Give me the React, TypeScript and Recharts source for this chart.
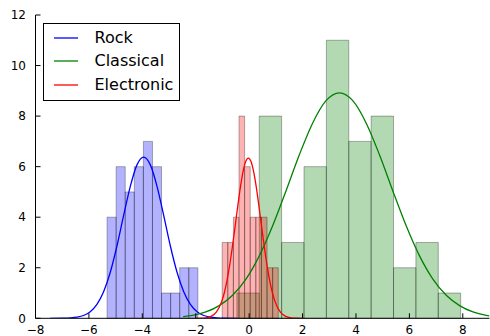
import React from "react";
import { ComposedChart, Line, XAxis, YAxis, ReferenceArea } from "recharts";

// histogram counts per bin
const rockCounts = [4, 6, 5, 6, 7, 6, 1, 1, 2, 2];
const rockBinStart = -5.32;
const rockBinWidth = 0.34;

const classicalCounts = [1, 8, 3, 6, 11, 7, 8, 2, 3, 1];
const classicalBinStart = -0.46;
const classicalBinWidth = 0.838;

const electronicCounts = [3, 3, 4, 8, 6, 4, 4, 4, 2, 2];
const electronicBinStart = -1.01;
const electronicBinWidth = 0.21;

// fitted curves, sampled by eye
const rockCurveX = [-7.45, -6.95, -6.7, -6.45, -6.2, -5.95, -5.7, -5.45, -5.2, -4.95, -4.7, -4.45, -4.2, -3.95, -3.7, -3.45, -3.2, -2.95, -2.7, -2.45, -2.2, -1.95, -1.7, -1.45, -1.2, -0.95, -0.45];
const rockCurveY = [0, 0.005, 0.015, 0.043, 0.11, 0.26, 0.55, 1.05, 1.82, 2.86, 4.07, 5.22, 6.07, 6.38, 6.07, 5.22, 4.07, 2.86, 1.82, 1.05, 0.55, 0.26, 0.11, 0.043, 0.015, 0.005, 0];

const classicalCurveX = [-2.47, -2.12, -1.62, -1.12, -0.62, -0.12, 0.38, 0.88, 1.38, 1.88, 2.38, 2.88, 3.38, 3.88, 4.38, 4.88, 5.38, 5.88, 6.38, 6.88, 7.38, 7.88, 8.38, 8.88, 9.0];
const classicalCurveY = [0.068, 0.119, 0.25, 0.5, 0.91, 1.55, 2.47, 3.66, 5.04, 6.47, 7.73, 8.61, 8.92, 8.61, 7.73, 6.47, 5.04, 3.66, 2.47, 1.55, 0.91, 0.5, 0.25, 0.119, 0.098];

const electronicCurveX = [-2.03, -1.83, -1.63, -1.43, -1.23, -1.03, -0.93, -0.83, -0.73, -0.63, -0.53, -0.43, -0.33, -0.23, -0.13, -0.03, 0.07, 0.17, 0.27, 0.37, 0.47, 0.57, 0.67, 0.77, 0.87, 0.97, 1.17, 1.37, 1.57, 1.77, 1.97];
const electronicCurveY = [0, 0.004, 0.019, 0.075, 0.24, 0.66, 1.01, 1.49, 2.09, 2.81, 3.6, 4.41, 5.17, 5.79, 6.2, 6.34, 6.2, 5.79, 5.17, 4.41, 3.6, 2.81, 2.09, 1.49, 1.01, 0.66, 0.24, 0.075, 0.019, 0.004, 0];

const xTicks = [-8, -6, -4, -2, 0, 2, 4, 6, 8];
const yTicks = [0, 2, 4, 6, 8, 10, 12];

const series = [
  { name: "Rock", color: "#0000ff" },
  { name: "Classical", color: "#008000" },
  { name: "Electronic", color: "#ff0000" },
];

const FONT = "'DejaVu Sans', sans-serif";

const toPoints = (xs: number[], ys: number[]) => xs.map((x, i) => ({ x, y: ys[i] }));

const fmt = (v: number) => (v < 0 ? "\u2212" + Math.abs(v) : String(v));

function histAreas(counts: number[], start: number, width: number, color: string, key: string) {
  return counts.map((c, i) => (
    <ReferenceArea
      key={`${key}-${i}`}
      x1={start + i * width}
      x2={start + (i + 1) * width}
      y1={0}
      y2={c}
      fill={color}
      fillOpacity={0.3}
      stroke="#000"
      strokeOpacity={0.3}
      strokeWidth={1}
    />
  ));
}

export default function App() {
  const tickStyle = { fill: "#000", fontSize: 12, fontFamily: FONT };
  return (
    <div style={{ position: "absolute", left: 0, top: 0, width: 490, height: 336, background: "#fff" }}>
      <ComposedChart width={490} height={336} margin={{ top: 15, right: 0.5, bottom: 0, left: 0 }}>
        <XAxis
          type="number"
          dataKey="x"
          domain={[-8, 9]}
          ticks={xTicks}
          allowDataOverflow
          height={17.7}
          tickSize={-5}
          tickMargin={12}
          tickFormatter={fmt}
          tick={tickStyle}
          axisLine={{ stroke: "#000" }}
          tickLine={{ stroke: "#000" }}
        />
        <XAxis
          xAxisId="top"
          orientation="top"
          type="number"
          domain={[-8, 9]}
          ticks={xTicks}
          allowDataOverflow
          height={0}
          tickSize={-5}
          tick={false}
          axisLine={{ stroke: "#000" }}
          tickLine={{ stroke: "#000" }}
        />
        <YAxis
          type="number"
          domain={[0, 12]}
          ticks={yTicks}
          allowDataOverflow
          width={35.5}
          tickSize={-5}
          tickMargin={14.5}
          tick={tickStyle}
          axisLine={{ stroke: "#000" }}
          tickLine={{ stroke: "#000" }}
        />
        <YAxis
          yAxisId="right"
          orientation="right"
          type="number"
          domain={[0, 12]}
          ticks={yTicks}
          width={0}
          tickSize={-5}
          tick={false}
          axisLine={{ stroke: "#000" }}
          tickLine={{ stroke: "#000" }}
        />

        {histAreas(rockCounts, rockBinStart, rockBinWidth, "#0000ff", "rock")}
        {histAreas(classicalCounts, classicalBinStart, classicalBinWidth, "#008000", "classical")}
        {histAreas(electronicCounts, electronicBinStart, electronicBinWidth, "#ff0000", "electronic")}

        <Line data={toPoints(rockCurveX, rockCurveY)} dataKey="y" type="monotone" stroke="#0000ff" strokeWidth={1.3} dot={false} isAnimationActive={false} />
        <Line data={toPoints(classicalCurveX, classicalCurveY)} dataKey="y" type="monotone" stroke="#008000" strokeWidth={1.3} dot={false} isAnimationActive={false} />
        <Line data={toPoints(electronicCurveX, electronicCurveY)} dataKey="y" type="monotone" stroke="#ff0000" strokeWidth={1.3} dot={false} isAnimationActive={false} />
      </ComposedChart>

      {/* legend box, upper left like matplotlib */}
      <div
        style={{
          position: "absolute",
          left: 42.5,
          top: 22.5,
          width: 137,
          height: 78,
          border: "1px solid #000",
          background: "#fff",
          boxSizing: "border-box",
          fontFamily: FONT,
          fontSize: 16,
        }}
      >
        {series.map((s, i) => (
          <div key={s.name} style={{ position: "absolute", left: 10, top: 4 + i * 23.8, height: 20, display: "flex", alignItems: "center" }}>
            <svg width={24} height={20} style={{ display: "block" }}>
              <line x1={0} y1={10} x2={24} y2={10} stroke={s.color} strokeWidth={1.3} />
            </svg>
            <span style={{ marginLeft: 17, color: "#000", lineHeight: "20px" }}>{s.name}</span>
          </div>
        ))}
      </div>
    </div>
  );
}
